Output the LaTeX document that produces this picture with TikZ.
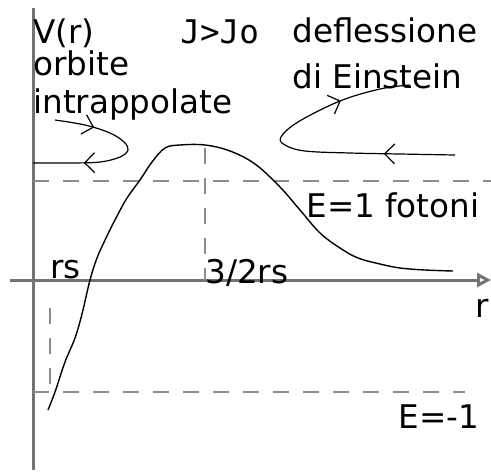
\documentclass[tikz,border=0pt]{standalone}
\usepackage{fontspec}
\setmainfont{DejaVu Sans}
\setmonofont{DejaVu Sans Mono}
\usetikzlibrary{arrows.meta,decorations.markings}
\definecolor{assegray}{gray}{0.45}
\definecolor{livgray}{gray}{0.55}

\begin{document}
\begin{tikzpicture}[x=0.5pt, y=-0.5pt,
      asse/.style={draw=assegray, line width=1.5pt},
      livello/.style={draw=livgray, line width=1.3pt, dash pattern=on 8pt off 7pt},
      curva/.style={black, line width=0.7pt},
      orbita/.style={black, line width=0.6pt, postaction={decorate}},
      lab/.style={anchor=base west, inner sep=0pt, font=\fontsize{16.3}{19}\selectfont}
  ]
    \useasboundingbox (0,0) rectangle (491,472);
    % assi
    \draw[asse] (33,8) -- (33,470);
    \draw[asse, -{Triangle[open, length=7pt, width=7pt]}] (10,280) -- (491,280);
    % livelli di energia
    \draw[livello] (33,181) -- (491,181);
    \draw[livello] (33,392) -- (465,392);
    \draw[livello] (205,148) -- (205,280);
    \draw[livello] (50,308) -- (50,392);
    % potenziale efficace
    \draw[curva] plot[smooth, tension=0.6] coordinates {
      (48,410) (55,392) (65,362) (75,338) (82,314) (90,280) (97,258)
      (106,238) (116,218) (127,198) (140,180) (152,162) (165,148)
      (180,145) (205,145) (230,151) (255,164) (280,187) (300,210)
      (320,233) (340,248) (358,258) (380,264) (400,268) (425,270) (453,271)};
    % orbita intrappolata
    \draw[orbita, decoration={markings,
        mark=at position 0.22 with {\arrow{Straight Barb[length=5pt]}},
        mark=at position 0.72 with {\arrow{Straight Barb[length=5pt]}}}]
      plot[smooth, tension=0.6] coordinates {
      (55,120) (85,125) (110,133) (124,142) (128,150) (120,157) (100,162) (70,163) (33,163)};
    % deflessione
    \draw[orbita, decoration={markings,
        mark=at position 0.22 with {\arrow{Straight Barb[length=5pt]}},
        mark=at position 0.78 with {\arrow{Straight Barb[length=5pt]}}}]
      plot[smooth, tension=0.6] coordinates {
      (455,155) (400,154) (350,153) (305,151) (285,145) (281,137) (298,122)
      (340,101) (380,89) (410,85)};
    % etichette
    \node[lab] (vr) at (33,43) {V(r)};
    \node[lab] (orb) at (33,75) {orbite};
    \node[lab] (intr) at (33,113) {intrappolate};
    \node[lab, font=\fontsize{16.3}{19}\selectfont\ttfamily] (jj) at (180,43) {J>Jo};
    \node[lab] (defl) at (292,42) {deflessione};
    \node[lab] (ein) at (292,88) {di Einstein};
    \node[lab] (fot) at (306,217) {E=1 fotoni};
    \node[lab] (rs) at (50,278) {rs};
    \node[lab] (rph) at (205,283) {3/2rs};
    \node[lab] (rr) at (475,317) {r};
    \node[lab] (emeno) at (398,428) {E=-1};
\end{tikzpicture}
\end{document}
